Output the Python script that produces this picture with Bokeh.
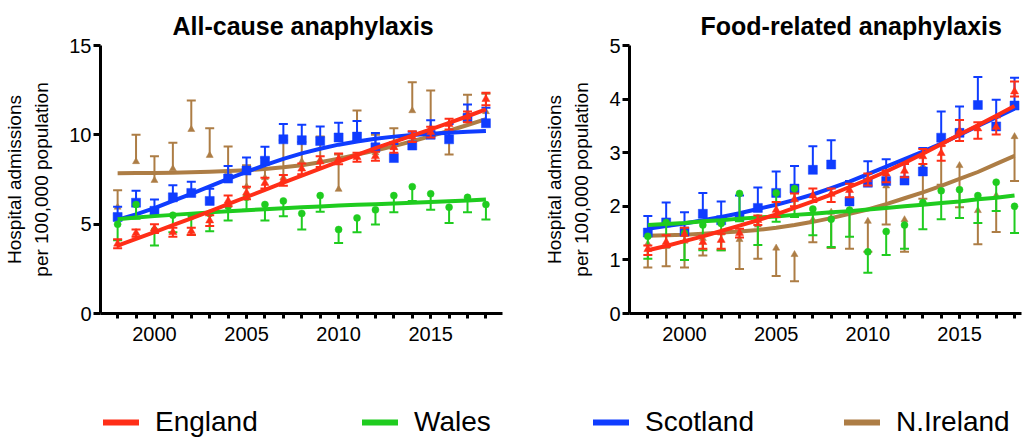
import math
from bokeh.plotting import figure
from bokeh.models import Range1d, FixedTicker, Legend, LegendItem, Title
from bokeh.layouts import column, row
from bokeh.embed import file_html
from bokeh.resources import INLINE

FONT = "Liberation Sans"

years = list(range(1998, 2019))
x_ticks = [2000, 2005, 2010, 2015]

names = ["England", "Wales", "Scotland", "N.Ireland"]
colors = ["#FF2E17", "#1FCC1F", "#0F3CFF", "#AD7D45"]

# ---------------- All-cause anaphylaxis ----------------
all_yticks = [0, 5, 10, 15]
eng_all = [3.9, 4.5, 4.75, 4.55, 4.6, 5.2, 6.3, 6.75, 7.3, 7.45, 8.1, 8.5, 8.65, 8.75, 8.8, 9.3, 9.9, 10.15, 10.6, 11.0, 12.0]
eng_all_err = [0.25, 0.2, 0.25, 0.25, 0.2, 0.3, 0.3, 0.35, 0.3, 0.3, 0.3, 0.3, 0.3, 0.25, 0.25, 0.3, 0.3, 0.3, 0.3, 0.3, 0.35]
eng_all_fit = [3.80, 4.18, 4.56, 4.94, 5.33, 5.72, 6.12, 6.52, 6.92, 7.32, 7.72, 8.11, 8.50, 8.88, 9.25, 9.61, 9.96, 10.31, 10.67, 11.04, 11.42]

wal_all = [5.0, 6.1, 4.65, 5.5, 5.45, 5.6, 6.0, 6.5, 6.1, 6.3, 5.6, 6.6, 4.7, 5.35, 5.8, 6.6, 7.1, 6.7, 5.95, 6.5, 6.1]
wal_all_lo = [4.1, 5.3, 3.8, 4.55, 4.4, 4.6, 5.2, 5.8, 5.2, 5.45, 4.7, 5.7, 3.95, 4.55, 4.98, 5.67, 6.3, 5.8, 5.07, 5.67, 5.26]
wal_all_fit = [5.28, 5.37, 5.45, 5.52, 5.59, 5.66, 5.72, 5.78, 5.84, 5.89, 5.94, 5.99, 6.04, 6.08, 6.12, 6.16, 6.20, 6.24, 6.28, 6.33, 6.38]

sco_all = [5.4, 6.2, 5.75, 6.5, 6.75, 6.3, 7.55, 8.0, 8.55, 9.75, 9.7, 9.65, 9.85, 9.9, 9.3, 8.7, 9.4, 10.0, 9.75, 10.95, 10.65]
sco_all_hi = [5.97, 6.87, 6.38, 7.18, 7.37, 6.98, 8.26, 8.73, 9.33, 10.6, 10.56, 10.47, 10.67, 10.77, 10.1, 9.48, 10.17, 10.82, 10.6, 11.7, 11.51]
sco_all_fit = [5.25, 5.55, 5.9, 6.3, 6.7, 7.12, 7.53, 7.93, 8.3, 8.65, 8.96, 9.22, 9.45, 9.63, 9.78, 9.9, 9.99, 10.06, 10.12, 10.17, 10.22]

ni_all = [5.95, 8.5, 7.45, 8.1, 10.3, 8.85, 7.95, 7.1, 7.6, 7.6, 8.5, 8.6, 6.95, 9.9, 9.0, 9.3, 11.35, 10.4, 10.2, 11.2, 11.3]
ni_all_lo = [5.95, 8.5, 7.45, 8.1, 10.3, 8.85, 7.95, 7.1, 7.6, 7.6, 8.5, 8.6, 6.95, 9.9, 9.0, 9.3, 11.35, 10.4, 8.9, 11.2, 11.3]
ni_all_hi = [6.9, 10.0, 8.8, 9.55, 11.92, 10.37, 9.35, 8.3, 8.7, 9.7, 9.6, 9.9, 8.9, 11.36, 10.0, 10.37, 12.95, 12.48, 10.2, 12.25, 12.3]
ni_all_fit = [7.85, 7.86, 7.87, 7.88, 7.9, 7.93, 7.97, 8.02, 8.09, 8.18, 8.3, 8.47, 8.67, 8.89, 9.12, 9.37, 9.64, 9.93, 10.23, 10.55, 10.88]

# ---------------- Food-related anaphylaxis ----------------
food_yticks = [0, 1, 2, 3, 4, 5]
eng_food = [1.2, 1.33, 1.48, 1.33, 1.37, 1.5, 1.74, 1.93, 2.13, 2.2, 2.23, 2.3, 2.5, 2.61, 2.66, 2.93, 2.99, 3.4, 3.45, 3.48, 4.14]
eng_food_lo = [1.09, 1.24, 1.35, 1.21, 1.21, 1.42, 1.65, 1.8, 2.0, 2.08, 2.08, 2.17, 2.39, 2.45, 2.54, 2.79, 2.85, 3.22, 3.26, 3.34, 4.05]
eng_food_hi = [1.27, 1.46, 1.6, 1.45, 1.49, 1.58, 1.83, 2.08, 2.24, 2.33, 2.33, 2.42, 2.61, 2.67, 2.79, 3.07, 3.13, 3.61, 3.57, 3.66, 4.33]
eng_food_fit = [1.18, 1.26, 1.35, 1.44, 1.54, 1.64, 1.74, 1.85, 1.97, 2.09, 2.22, 2.36, 2.5, 2.65, 2.81, 2.98, 3.16, 3.34, 3.51, 3.69, 3.87]

wal_food = [1.44, 1.7, 1.5, 1.65, 1.68, 2.24, 1.78, 2.25, 2.33, 1.95, 1.76, 1.93, 1.15, 1.53, 1.65, 2.07, 2.29, 2.31, 2.2, 2.45, 2.0]
wal_food_lo = [1.02, 1.25, 1.0, 1.18, 1.18, 1.72, 1.28, 1.71, 1.8, 1.46, 1.24, 1.43, 0.76, 1.09, 1.21, 1.57, 1.76, 1.78, 1.69, 1.91, 1.5]
wal_food_fit = [1.65, 1.67, 1.69, 1.72, 1.74, 1.77, 1.79, 1.81, 1.84, 1.86, 1.89, 1.91, 1.94, 1.97, 2.0, 2.03, 2.06, 2.09, 2.13, 2.16, 2.2]

sco_food = [1.51, 1.7, 1.53, 1.86, 1.74, 1.8, 1.97, 2.25, 2.33, 2.68, 2.78, 2.09, 2.44, 2.47, 2.48, 2.65, 3.28, 3.37, 3.89, 3.49, 3.88]
sco_food_hi = [1.82, 2.07, 1.89, 2.25, 2.09, 2.2, 2.35, 2.65, 2.75, 3.12, 3.23, 2.47, 2.84, 2.88, 2.85, 3.09, 3.77, 3.86, 4.41, 3.99, 4.4]
sco_food_fit = [1.58, 1.63, 1.68, 1.74, 1.8, 1.87, 1.95, 2.03, 2.12, 2.22, 2.34, 2.46, 2.6, 2.74, 2.88, 3.02, 3.17, 3.33, 3.5, 3.66, 3.82]

ni_food = [1.3, 1.25, 1.35, 1.4, 1.5, 1.38, 1.65, 1.22, 1.1, 1.75, 1.89, 1.92, 1.72, 2.38, 1.75, 2.75, 3.15, 2.76, 1.92, 2.2, 3.3]
ni_food_lo = [0.86, 0.88, 0.86, 1.08, 1.18, 0.83, 1.02, 0.7, 0.6, 1.33, 1.22, 1.21, 1.15, 1.66, 1.15, 2.14, 2.4, 1.98, 1.29, 1.52, 2.47]
ni_food_fit = [1.45, 1.46, 1.47, 1.49, 1.51, 1.53, 1.56, 1.6, 1.65, 1.71, 1.78, 1.86, 1.94, 2.04, 2.15, 2.26, 2.38, 2.51, 2.64, 2.79, 2.94]


def make_panel(title, yticks, x_start, x_end, width, left_border, right_border, title_offset):
    p = figure(width=width, height=353,
               x_range=Range1d(x_start, x_end), y_range=Range1d(yticks[0], yticks[-1]),
               output_backend="svg", toolbar_location=None,
               min_border_left=left_border, min_border_right=right_border,
               min_border_top=45, min_border_bottom=40)
    p.grid.visible = False
    p.outline_line_color = None
    p.background_fill_color = "white"
    p.border_fill_color = "white"
    p.title = Title(text=title, align="left", offset=title_offset, text_font=FONT,
                    text_font_size="25px", text_font_style="bold", text_color="black",
                    standoff=12)
    for ax in (p.xaxis[0], p.yaxis[0]):
        ax.axis_line_width = 3
        ax.axis_line_color = "black"
        ax.major_tick_line_width = 3
        ax.major_tick_line_color = "black"
        ax.major_tick_in = 0
        ax.major_label_text_font = FONT
        ax.major_label_text_font_size = "20px"
        ax.major_label_text_color = "black"
    p.xaxis.ticker = FixedTicker(ticks=x_ticks, minor_ticks=years)
    p.xaxis.major_tick_out = 5
    p.xaxis.minor_tick_out = 5
    p.xaxis.minor_tick_in = 0
    p.xaxis.minor_tick_line_width = 3
    p.xaxis.minor_tick_line_color = "black"
    p.xaxis.major_label_standoff = 8
    p.yaxis.ticker = FixedTicker(ticks=yticks, minor_ticks=[])
    p.yaxis.major_tick_out = 7
    p.yaxis.major_label_standoff = 2
    p.yaxis.minor_tick_line_color = None
    p.yaxis.axis_label = "Hospital admissions\nper 100,000 population"
    p.yaxis.axis_label_text_font = FONT
    p.yaxis.axis_label_text_font_size = "19px"
    p.yaxis.axis_label_text_font_style = "normal"
    p.yaxis.axis_label_text_color = "black"
    p.yaxis.axis_label_text_line_height = 1.3
    p.yaxis.axis_label_standoff = 14
    return p


def draw_series(p, vals, lo, hi, fit, color, marker, size):
    # error bars
    sx, s0, s1, cx, cy = [], [], [], [], []
    for x, v, l, h in zip(years, vals, lo, hi):
        if h > l:
            sx.append(x); s0.append(l); s1.append(h)
        if l < v:
            cx.append(x); cy.append(l)
        if h > v:
            cx.append(x); cy.append(h)
    p.segment(x0=sx, y0=s0, x1=sx, y1=s1, line_width=2, line_color=color)
    p.scatter(x=cx, y=cy, marker="dash", size=9, line_width=2, line_color=color)
    # fitted curve
    p.line(x=years, y=fit, line_width=4, line_color=color, line_join="round")
    # points
    p.scatter(x=years, y=vals, marker=marker, size=size, fill_color=color, line_color=color, line_width=0.5)


p1 = make_panel("All-cause anaphylaxis", all_yticks, 1997.07, 2018.9, 511, 100, 9, 72)
draw_series(p1, ni_all, ni_all_lo, ni_all_hi, ni_all_fit, colors[3], "triangle", 7)
draw_series(p1, sco_all, sco_all, sco_all_hi, sco_all_fit, colors[2], "square", 9)
draw_series(p1, wal_all, wal_all_lo, wal_all, wal_all_fit, colors[1], "circle", 7)
eng_all_lo = [v - e for v, e in zip(eng_all, eng_all_err)]
eng_all_hi = [v + e for v, e in zip(eng_all, eng_all_err)]
draw_series(p1, eng_all, eng_all_lo, eng_all_hi, eng_all_fit, colors[0], "triangle", 8)

p2 = make_panel("Food-related anaphylaxis", food_yticks, 1997.0, 2018.38, 511, 118, 1, 71)
draw_series(p2, ni_food, ni_food_lo, ni_food, ni_food_fit, colors[3], "triangle", 7)
draw_series(p2, sco_food, sco_food, sco_food_hi, sco_food_fit, colors[2], "square", 9)
draw_series(p2, wal_food, wal_food_lo, wal_food, wal_food_fit, colors[1], "circle", 7)
draw_series(p2, eng_food, eng_food_lo, eng_food_hi, eng_food_fit, colors[0], "triangle", 8)

# legend strip
p3 = figure(width=1022, height=85, x_range=Range1d(0, 1), y_range=Range1d(0, 1),
            output_backend="svg", toolbar_location=None, min_border=0,
            x_axis_location=None, y_axis_location=None)
p3.grid.visible = False
p3.outline_line_color = None
legend_x = [103, 362, 593, 844]
for name, color, lx in zip(names, colors, legend_x):
    r = p3.line(x=[math.nan], y=[math.nan], line_width=6, line_cap="round", line_color=color)
    lg = Legend(items=[LegendItem(label=name, renderers=[r])], location=(lx, 0),
                glyph_width=36, glyph_height=20, label_standoff=16,
                label_text_font=FONT, label_text_font_size="28px", label_text_color="black",
                padding=0, margin=0, border_line_color=None, background_fill_alpha=0)
    p3.add_layout(lg)

layout = column(row(p1, p2), p3)
open("out.html", "w").write(file_html(layout, INLINE))
